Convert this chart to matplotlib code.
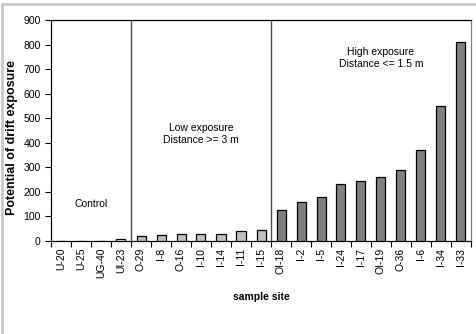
import matplotlib
matplotlib.use("Agg")
import matplotlib.pyplot as plt
from matplotlib.patches import Rectangle
import numpy as np

plt.rcParams['font.family'] = ['Liberation Sans', 'DejaVu Sans']

control_sites = ["U-20", "U-25", "UG-40", "UI-23"]
control_vals = [0, 0, 0, 10]
low_sites = ["O-29", "I-8", "O-16", "I-10", "I-14", "I-11", "I-15"]
low_vals = [20, 25, 28, 28, 30, 40, 43]
high_sites = ["OI-18", "I-2", "I-5", "I-24", "I-17", "OI-19", "O-36", "I-6", "I-34", "I-33"]
high_vals = [125, 158, 178, 232, 243, 262, 290, 370, 550, 812]

groups = [
    (control_sites, control_vals, "white"),
    (low_sites, low_vals, "#c0c0c0"),
    (high_sites, high_vals, "#808080"),
]

fig = plt.figure(figsize=(4.76, 3.34), dpi=100)
# chart area border (excel style)
fig.patches.append(Rectangle((0.004, -0.1), 1.2, 1.088, transform=fig.transFigure,
                             fill=False, edgecolor="#c8c8c8", linewidth=2))
ax = fig.add_axes([51 / 476, 1 - 241 / 334, 420 / 476, 221 / 334])

labels = []
start = 0
for sites, vals, color in groups:
    x = np.arange(start, start + len(sites))
    ax.bar(x, vals, width=0.45, color=color, edgecolor="black", linewidth=0.9, zorder=3)
    labels += sites
    start += len(sites)

# group dividers
ax.axvline(len(control_sites) - 0.5, color="#505050", linewidth=1)
ax.axvline(len(control_sites) + len(low_sites) - 0.5, color="#505050", linewidth=1)

ax.text(1.5, 150, "Control", ha="center", va="center", fontsize=7.5)
ax.text(7, 436, "Low exposure\nDistance >= 3 m", ha="center", va="center",
        fontsize=7.5, linespacing=1.3)
ax.text(16, 745, "High exposure\nDistance <= 1.5 m", ha="center", va="center",
        fontsize=7.5, linespacing=1.3)

n = len(labels)
ax.set_xlim(-0.5, n - 0.5)
ax.set_ylim(0, 900)
ax.set_yticks(range(0, 901, 100))
ax.set_xticks(np.arange(n))
ax.set_xticklabels(labels, rotation=90, fontsize=7.5)
ax.set_xticks(np.arange(-0.5, n, 1), minor=True)
ax.tick_params(axis="x", which="major", length=0, pad=5)
ax.tick_params(axis="x", which="minor", length=4, direction="out", width=0.8)
ax.tick_params(axis="y", length=4, direction="out", width=0.8, labelsize=7.5)

for s in ["top", "left", "bottom"]:
    ax.spines[s].set_color("black")
    ax.spines[s].set_linewidth(0.9)
ax.spines["right"].set_color("#808080")
ax.spines["right"].set_linewidth(0.9)

ax.set_xlabel("sample site", fontsize=7.5, fontweight="bold", labelpad=10)
ax.set_ylabel("Potential of drift exposure", fontsize=9, fontweight="bold")
ax.yaxis.set_label_coords(-0.078, 0.47)

fig.savefig("out.png", dpi=100)
